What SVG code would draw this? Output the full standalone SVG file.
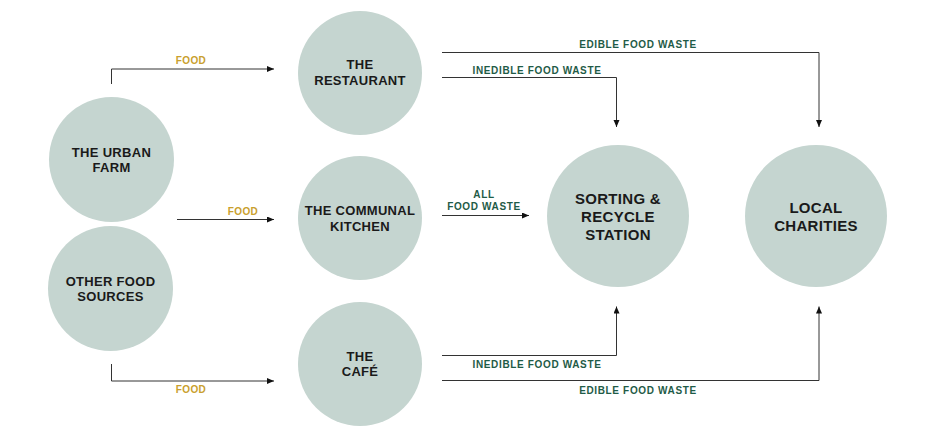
<svg xmlns="http://www.w3.org/2000/svg" width="930" height="429" viewBox="0 0 930 429">
<style>
.node{fill:#C5D5D0}
.nt{font-family:"Liberation Sans",Arial,sans-serif;font-weight:bold;font-size:13px;fill:#1a1a1a;text-anchor:middle;letter-spacing:0.3px}
.big{font-size:15px}
.food{font-family:"Liberation Sans",Arial,sans-serif;font-weight:bold;font-size:10px;fill:#C9A02E;text-anchor:middle;letter-spacing:0.4px}
.waste{font-family:"Liberation Sans",Arial,sans-serif;font-weight:bold;font-size:10px;fill:#1F5B47;text-anchor:middle;letter-spacing:0.65px}
.ln{fill:none;stroke:#333;stroke-width:1}
</style>
<defs>
<marker id="ah" markerUnits="userSpaceOnUse" markerWidth="8" markerHeight="7" refX="7" refY="3" orient="auto">
<path d="M0,0 L7,3 L0,6 z" fill="#111"/>
</marker>
</defs>
<rect width="930" height="429" fill="#fff"/>

<g id="urban-farm">
<circle class="node" cx="111.5" cy="159.5" r="62.5"/>
<text class="nt" x="111.5" y="156.5">THE URBAN</text>
<text class="nt" x="111.5" y="172">FARM</text>
</g>
<g id="other-food">
<circle class="node" cx="110.5" cy="288.5" r="62.5"/>
<text class="nt" x="110.5" y="285.5">OTHER FOOD</text>
<text class="nt" x="110.5" y="301">SOURCES</text>
</g>
<g id="restaurant">
<circle class="node" cx="360" cy="73" r="62"/>
<text class="nt" x="360" y="68.5">THE</text>
<text class="nt" x="360" y="84.5">RESTAURANT</text>
</g>
<g id="communal-kitchen">
<circle class="node" cx="360" cy="218" r="62"/>
<text class="nt" x="360" y="214.5">THE COMMUNAL</text>
<text class="nt" x="360" y="230.5">KITCHEN</text>
</g>
<g id="cafe">
<circle class="node" cx="360" cy="364" r="62"/>
<text class="nt" x="360" y="360.5">THE</text>
<text class="nt" x="360" y="376">CAFÉ</text>
</g>
<g id="sorting">
<circle class="node" cx="618" cy="216" r="71"/>
<text class="nt big" x="618" y="203.5">SORTING &amp;</text>
<text class="nt big" x="618" y="222">RECYCLE</text>
<text class="nt big" x="618" y="240">STATION</text>
</g>
<g id="charities">
<circle class="node" cx="816" cy="216" r="71"/>
<text class="nt big" x="816" y="212.5">LOCAL</text>
<text class="nt big" x="816" y="230.5">CHARITIES</text>
</g>

<g id="connectors">
<path class="ln" d="M111.5,84 V69 H274" marker-end="url(#ah)"/>
<path class="ln" d="M177,219.5 H274" marker-end="url(#ah)"/>
<path class="ln" d="M111.5,364 V381 H274" marker-end="url(#ah)"/>
<path class="ln" d="M442,52.5 H819 V127" marker-end="url(#ah)"/>
<path class="ln" d="M442,77.5 H616.5 V127" marker-end="url(#ah)"/>
<path class="ln" d="M442,215.5 H529" marker-end="url(#ah)"/>
<path class="ln" d="M442,355.5 H616.5 V306.5" marker-end="url(#ah)"/>
<path class="ln" d="M442,380.5 H819 V306.5" marker-end="url(#ah)"/>
<text class="food" x="191" y="64">FOOD</text>
<text class="food" x="243" y="214.5">FOOD</text>
<text class="food" x="191" y="393">FOOD</text>
<text class="waste" x="638" y="48">EDIBLE FOOD WASTE</text>
<text class="waste" x="537" y="74">INEDIBLE FOOD WASTE</text>
<text class="waste" x="484" y="197.5">ALL</text>
<text class="waste" x="484" y="210">FOOD WASTE</text>
<text class="waste" x="537" y="367.5">INEDIBLE FOOD WASTE</text>
<text class="waste" x="638" y="393.5">EDIBLE FOOD WASTE</text>
</g>
</svg>
